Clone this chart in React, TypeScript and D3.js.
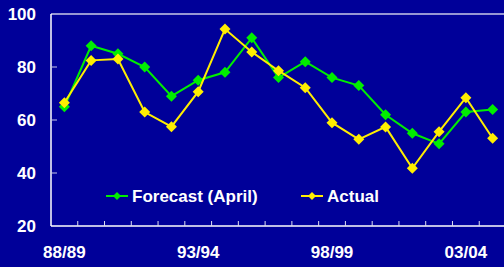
import React from "react";
import { scaleBand, scaleLinear, line } from "d3";

const years = [
  "88/89", "89/90", "90/91", "91/92", "92/93", "93/94", "94/95", "95/96", "96/97",
  "97/98", "98/99", "99/00", "00/01", "01/02", "02/03", "03/04", "04/05",
];
const forecast = [65, 88, 85, 80, 69, 75, 78, 91, 76, 82, 76, 73, 62, 55, 51, 63, 64];
const actual = [66.5, 82.5, 83, 63, 57.5, 70.7, 94.3, 85.7, 78.6, 72.2, 59, 52.7, 57.4, 41.8, 55.6, 68.4, 53.1];
const yTicks = [20, 40, 60, 80, 100];
const xLabels = ["88/89", "93/94", "98/99", "03/04"];

const series = [
  { name: "Forecast (April)", values: forecast, color: "#00ee00" },
  { name: "Actual", values: actual, color: "#ffee00" },
];

export default function App() {
  const width = 504;
  const height = 267;
  const left = 51;
  const right = 506;
  const top = 14;
  const bottom = 226;

  const x = scaleBand().domain(years).range([left, right]);
  const y = scaleLinear().domain([20, 100]).range([bottom, top]);
  const cx = (d: string) => (x(d) ?? 0) + x.bandwidth() / 2;

  const path = line<number>()
    .x((_, i) => cx(years[i]))
    .y((d) => y(d));

  const diamond = (px: number, py: number, r: number) =>
    `M${px},${py - r}L${px + r},${py}L${px},${py + r}L${px - r},${py}Z`;

  const font = { fontFamily: "Liberation Sans, Arial, sans-serif", fontWeight: "bold" as const };

  return (
    <svg width={width} height={height} style={{ position: "absolute", left: 0, top: 0, background: "#000099" }}>
      <rect width={width} height={height} fill="#000099" />
      {/* top gridline */}
      <line x1={left} x2={right} y1={y(100)} y2={y(100)} stroke="#c8c8e8" strokeWidth={1.5} />
      {/* axes */}
      <line x1={left} x2={left} y1={top} y2={bottom} stroke="#ffffff" strokeWidth={1.5} />
      <line x1={left} x2={right} y1={bottom} y2={bottom} stroke="#ffffff" strokeWidth={1.5} />
      {yTicks.map((t) => (
        <g key={t}>
          {t !== 20 && t !== 100 && (
            <line x1={left} x2={left + 6} y1={y(t)} y2={y(t)} stroke="#c8c8e8" strokeWidth={1} />
          )}
          <text x={36} y={y(t)} textAnchor="end" dominantBaseline="central" fill="#fff" fontSize={17} {...font}>
            {t}
          </text>
        </g>
      ))}
      {years.slice(1).map((d) => (
        <line key={d} x1={x(d)} x2={x(d)} y1={bottom} y2={bottom - 5} stroke="#e0e0f0" strokeWidth={1} />
      ))}
      {xLabels.map((d) => (
        <text key={d} x={cx(d)} y={252} textAnchor="middle" dominantBaseline="central" fill="#fff" fontSize={17} {...font}>
          {d}
        </text>
      ))}
      {series.map((s) => (
        <g key={s.name}>
          <path d={path(s.values) ?? ""} fill="none" stroke={s.color} strokeWidth={2} />
          {s.values.map((v, i) => (
            <path key={i} d={diamond(cx(years[i]), y(v), 5.5)} fill={s.color} />
          ))}
        </g>
      ))}
      {/* legend */}
      {[
        { s: series[0], x0: 106, tx: 132 },
        { s: series[1], x0: 301, tx: 327 },
      ].map(({ s, x0, tx }) => (
        <g key={s.name}>
          <line x1={x0} x2={x0 + 22} y1={196} y2={196} stroke={s.color} strokeWidth={2} />
          <path d={diamond(x0 + 11, 196, 4)} fill={s.color} />
          <text x={tx} y={196} dominantBaseline="central" fill="#fff" fontSize={17} {...font}>
            {s.name}
          </text>
        </g>
      ))}
    </svg>
  );
}
